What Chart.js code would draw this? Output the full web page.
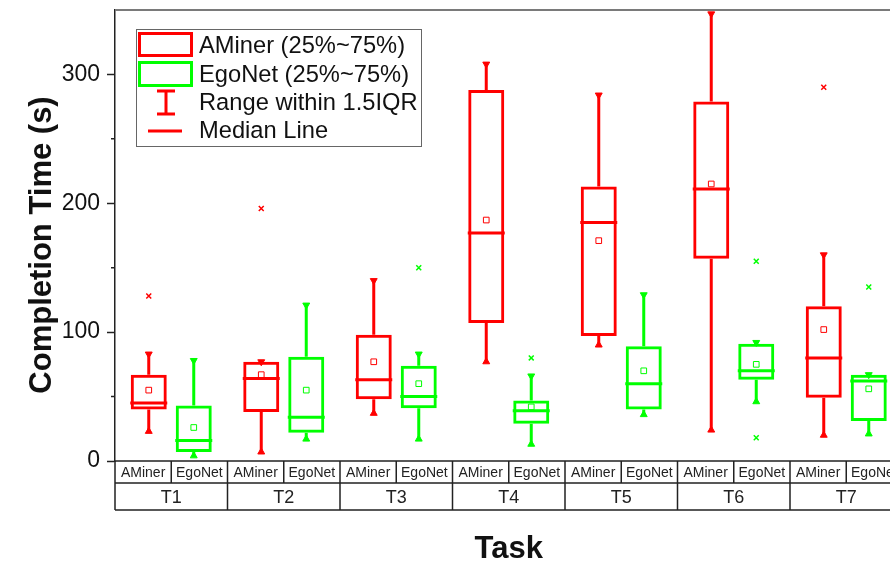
<!DOCTYPE html>
<html>
<head>
<meta charset="utf-8">
<script src="https://cdn.jsdelivr.net/npm/chart.js@4.4.1/dist/chart.umd.min.js"></script>
<style>
  html, body { margin: 0; padding: 0; background: #fff; overflow: hidden; }
  #wrap { width: 905px; height: 562px; }
</style>
</head>
<body>
<div id="wrap"><canvas id="boxChart" width="905" height="562"></canvas></div>
<script>
// categories
const tasks = ['T1', 'T2', 'T3', 'T4', 'T5', 'T6', 'T7'];
const systems = ['AMiner', 'EgoNet'];

// AMiner box stats (s)
const aminerLow = [23, 7, 37, 77, 90, 24, 20];
const aminerQ1 = [40, 38, 48, 107, 97, 157, 49];
const aminerMedian = [45, 64, 63, 177, 185, 211, 80];
const aminerQ3 = [67, 77, 98, 288, 213, 279, 120];
const aminerHigh = [83, 77, 140, 308, 284, 347, 160];
const aminerMean = [55, 67, 77, 187, 171, 215, 102];
const aminerOutliers = [[128], [196], [], [], [], [], [290]];

// EgoNet box stats (s)
const egonetLow = [4, 17, 17, 13, 36, 46, 21];
const egonetQ1 = [7, 22, 41, 29, 40, 63, 31];
const egonetMedian = [16, 34, 50, 39, 60, 70, 62];
const egonetQ3 = [43, 81, 74, 47, 89, 91, 67];
const egonetHigh = [78, 121, 83, 66, 129, 92, 67];
const egonetMean = [26, 55, 60, 42, 70, 75, 56];
const egonetOutliers = [[], [], [150], [80], [], [18, 155], [135]];

// y axis ticks
const majorTicks = [0, 100, 200, 300];
const minorTicks = [50, 150, 250];

const boxOffsets = [0.3, 0.7];
const RED = '#ff0000';
const GREEN = '#00ff00';
const FONT = '"Liberation Sans", Arial, Helvetica, sans-serif';

const series = [
    { low: aminerLow, q1: aminerQ1, med: aminerMedian, q3: aminerQ3, high: aminerHigh, mean: aminerMean, out: aminerOutliers, color: RED, off: boxOffsets[0] },
    { low: egonetLow, q1: egonetQ1, med: egonetMedian, q3: egonetQ3, high: egonetHigh, mean: egonetMean, out: egonetOutliers, color: GREEN, off: boxOffsets[1] }
];

const datasets = [];
series.forEach(s => {
    const xs = tasks.map((t, i) => i + s.off);
    // box (25%~75%)
    datasets.push({
        type: 'bar', grouped: false, barPercentage: 1, maxBarThickness: 37, order: 2,
        data: xs.map((x, i) => ({ x, y: [s.q1[i], s.q3[i]] })),
        backgroundColor: 'rgba(0,0,0,0)', borderColor: s.color, borderWidth: 3, borderSkipped: false
    });
    // whiskers
    datasets.push({
        type: 'bar', grouped: false, barPercentage: 1, maxBarThickness: 3, order: 3,
        data: xs.map((x, i) => ({ x, y: [s.low[i], s.q1[i]] }))
            .concat(xs.map((x, i) => ({ x, y: [s.q3[i], s.high[i]] }))),
        backgroundColor: s.color, borderWidth: 0
    });
    // whisker caps
    datasets.push({
        type: 'scatter', order: 1,
        data: xs.map((x, i) => ({ x, y: s.high[i] })),
        pointStyle: 'triangle', rotation: 180, pointRadius: 4,
        backgroundColor: s.color, borderColor: s.color, borderWidth: 1
    });
    datasets.push({
        type: 'scatter', order: 1,
        data: xs.map((x, i) => ({ x, y: s.low[i] })),
        pointStyle: 'triangle', rotation: 0, pointRadius: 4,
        backgroundColor: s.color, borderColor: s.color, borderWidth: 1
    });
    // median line
    datasets.push({
        type: 'scatter', order: 1,
        data: xs.map((x, i) => ({ x, y: s.med[i] })),
        pointStyle: 'line', pointRadius: 18.5,
        borderColor: s.color, borderWidth: 3
    });
    // mean
    datasets.push({
        type: 'scatter', order: 1,
        data: xs.map((x, i) => ({ x, y: s.mean[i] })),
        pointStyle: 'rect', pointRadius: 4,
        backgroundColor: 'rgba(0,0,0,0)', borderColor: s.color, borderWidth: 1
    });
    // outliers
    const outs = [];
    s.out.forEach((vals, i) => vals.forEach(v => outs.push({ x: xs[i], y: v })));
    datasets.push({
        type: 'scatter', order: 1,
        data: outs,
        pointStyle: 'crossRot', pointRadius: 3.5,
        borderColor: s.color, borderWidth: 1.5
    });
});

const extrasPlugin = {
    id: 'extras',
    afterDraw(chart) {
        const { ctx, chartArea: area, scales: { x, y } } = chart;
        ctx.save();

        // top frame
        ctx.strokeStyle = '#7a7a7a';
        ctx.lineWidth = 2;
        ctx.beginPath();
        ctx.moveTo(area.left, area.top);
        ctx.lineTo(area.right, area.top);
        ctx.stroke();

        // minor ticks
        ctx.strokeStyle = '#222';
        ctx.lineWidth = 1.5;
        ctx.beginPath();
        minorTicks.forEach(v => {
            const py = y.getPixelForValue(v);
            ctx.moveTo(area.left - 4, py);
            ctx.lineTo(area.left, py);
        });
        ctx.stroke();

        // category table under the axis
        const row1 = area.bottom + 22;
        const row2 = area.bottom + 49;
        ctx.beginPath();
        [area.bottom, row1, row2].forEach(py => {
            ctx.moveTo(area.left, py);
            ctx.lineTo(area.right, py);
        });
        tasks.forEach((t, i) => {
            const gx = x.getPixelForValue(i);
            const mid = x.getPixelForValue(i + 0.5);
            ctx.moveTo(gx, area.bottom);
            ctx.lineTo(gx, row2);
            ctx.moveTo(mid, area.bottom);
            ctx.lineTo(mid, row1);
        });
        ctx.stroke();

        ctx.fillStyle = '#222';
        ctx.textAlign = 'center';
        ctx.textBaseline = 'alphabetic';
        ctx.font = '14px ' + FONT;
        tasks.forEach((t, i) => {
            systems.forEach((name, j) => {
                ctx.fillText(name, x.getPixelForValue(i + 0.25 + j * 0.5), area.bottom + 16);
            });
        });
        ctx.font = '18px ' + FONT;
        tasks.forEach((t, i) => {
            ctx.fillText(t, x.getPixelForValue(i + 0.5), area.bottom + 42);
        });

        // axis titles
        ctx.fillStyle = '#111';
        ctx.font = 'bold 31px ' + FONT;
        ctx.fillText('Task', (area.left + area.right) / 2, 558);
        ctx.save();
        ctx.translate(51, 245);
        ctx.rotate(-Math.PI / 2);
        ctx.font = 'bold 31px ' + FONT;
        ctx.fillText('Completion Time (s)', 0, 0);
        ctx.restore();

        // legend
        ctx.fillStyle = '#fff';
        ctx.fillRect(136, 29.5, 285, 117);
        ctx.strokeStyle = '#666';
        ctx.lineWidth = 1;
        ctx.strokeRect(136.5, 29.5, 285, 117);
        ctx.lineWidth = 3;
        ctx.strokeStyle = RED;
        ctx.strokeRect(139.5, 33.5, 52, 22);
        ctx.strokeStyle = GREEN;
        ctx.strokeRect(139.5, 62.5, 52, 23);
        ctx.strokeStyle = RED;
        ctx.beginPath();
        ctx.moveTo(166, 90); ctx.lineTo(166, 115);
        ctx.moveTo(157, 91); ctx.lineTo(175, 91);
        ctx.moveTo(157, 114); ctx.lineTo(175, 114);
        ctx.moveTo(148, 131); ctx.lineTo(182, 131);
        ctx.stroke();

        ctx.fillStyle = '#111';
        ctx.textAlign = 'left';
        ctx.textBaseline = 'middle';
        ctx.font = '23.7px ' + FONT;
        ctx.fillText('AMiner (25%~75%)', 199, 46);
        ctx.fillText('EgoNet (25%~75%)', 199, 75);
        ctx.fillText('Range within 1.5IQR', 199, 103);
        ctx.fillText('Median Line', 199, 131);

        ctx.restore();
    }
};

new Chart(document.getElementById('boxChart'), {
    type: 'bar',
    data: { datasets },
    options: {
        responsive: false,
        animation: false,
        layout: { autoPadding: false, padding: { left: 0, top: 10, right: 2.5, bottom: 101 } },
        plugins: { legend: { display: false }, tooltip: { enabled: false } },
        scales: {
            x: { type: 'linear', min: 0, max: 7, offset: false, display: false, ticks: { stepSize: 1 } },
            y: {
                min: 0, max: 350,
                border: { color: '#222', width: 1.5 },
                grid: {
                    drawOnChartArea: false, tickLength: 8, tickWidth: 1.5,
                    tickColor: c => majorTicks.includes(c.tick.value) ? '#222' : 'rgba(0,0,0,0)'
                },
                ticks: {
                    stepSize: 50, autoSkip: false, padding: 7, color: '#111',
                    font: { family: FONT, size: 23 },
                    callback: v => majorTicks.includes(v) ? v : ''
                },
                afterFit: s => { s.width = 115; s.paddingTop = 0; s.paddingBottom = 0; }
            }
        }
    },
    plugins: [extrasPlugin]
});
</script>
</body>
</html>
